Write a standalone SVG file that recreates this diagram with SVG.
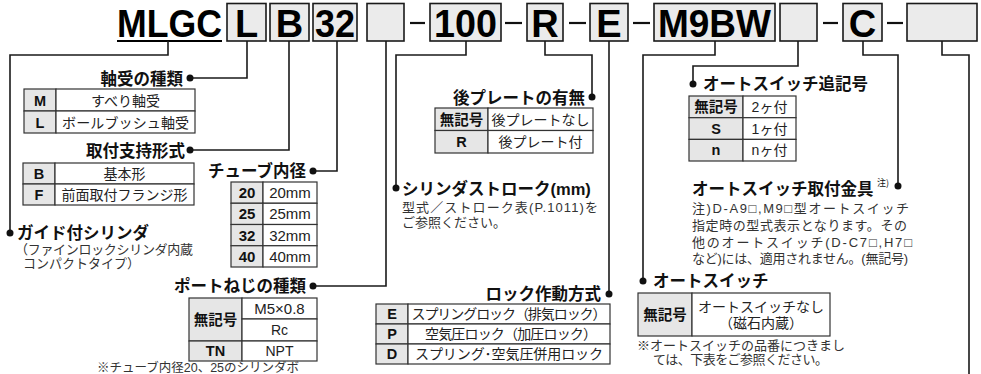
<svg xmlns="http://www.w3.org/2000/svg" width="981" height="374" viewBox="0 0 981 374">
<style>
.bx{fill:#ebebeb;stroke:#1a1a1a;stroke-width:1.6}
.big{font-family:"Liberation Sans",Arial,sans-serif;font-weight:700;font-size:38px;text-anchor:middle;fill:#000}
.ln{stroke:#1a1a1a;stroke-width:1.6;fill:none}
.dot{fill:#111}
.ttl{font-family:"Liberation Sans","Noto Sans CJK JP",sans-serif;font-weight:700;font-size:16.5px;fill:#111}
.e{text-anchor:end}
.th{fill:#e6e6e6;stroke:#333;stroke-width:1.2}
.td{fill:#fff;stroke:#333;stroke-width:1.2}
.c{font-family:"Liberation Sans","Noto Sans CJK JP",sans-serif;font-size:14px;text-anchor:middle;fill:#222}
.cb{font-family:"Liberation Sans","Noto Sans CJK JP",sans-serif;font-size:14.5px;font-weight:700;text-anchor:middle;fill:#111}
.n{font-family:"Liberation Sans","Noto Sans CJK JP",sans-serif;font-size:13px;fill:#333}
</style>

<g id="code">
  <text x="117" y="37" class="big" style="text-anchor:start" textLength="105" lengthAdjust="spacingAndGlyphs">MLGC</text>
  <line x1="117" y1="41" x2="222" y2="41" stroke="#000" stroke-width="2"/>
  <rect class="bx" x="227" y="3.5" width="39" height="37.5"/><text class="big" x="246.5" y="37">L</text>
  <rect class="bx" x="270" y="3.5" width="39" height="37.5"/><text class="big" x="289.5" y="37">B</text>
  <rect class="bx" x="313" y="3.5" width="44" height="37.5"/><text class="big" x="335" y="37" textLength="40" lengthAdjust="spacingAndGlyphs">32</text>
  <rect class="bx" x="367" y="3.5" width="37" height="37.5"/>
  <rect class="bx" x="430" y="3.5" width="71" height="37.5"/><text class="big" x="465.5" y="37" textLength="63" lengthAdjust="spacingAndGlyphs">100</text>
  <rect class="bx" x="527" y="3.5" width="36" height="37.5"/><text class="big" x="545" y="37">R</text>
  <rect class="bx" x="590" y="3.5" width="38" height="37.5"/><text class="big" x="609" y="37">E</text>
  <rect class="bx" x="654" y="3.5" width="121" height="37.5"/><text class="big" x="714.5" y="37" textLength="113" lengthAdjust="spacingAndGlyphs">M9BW</text>
  <rect class="bx" x="780" y="3.5" width="37" height="37.5"/>
  <rect class="bx" x="843" y="3.5" width="39" height="37.5"/><text class="big" x="862.5" y="37">C</text>
  <rect class="bx" x="907" y="3.5" width="70" height="37.5"/>
  <g stroke="#111" stroke-width="2.2">
    <line x1="410" y1="23" x2="425" y2="23"/>
    <line x1="505" y1="23" x2="522" y2="23"/>
    <line x1="569" y1="23" x2="586" y2="23"/>
    <line x1="633" y1="23" x2="650" y2="23"/>
    <line x1="823" y1="23" x2="838" y2="23"/>
    <line x1="887" y1="23" x2="903" y2="23"/>
  </g>
</g>

<g id="connectors">
  <path class="ln" d="M168,41 V55 H10 V233"/>
  <path class="ln" d="M247,41 V78 H190"/>
  <path class="ln" d="M289,41 V150 H190"/>
  <path class="ln" d="M337,41 V171 H313"/>
  <path class="ln" d="M386,41 V286 H313"/>
  <path class="ln" d="M466,41 V55 H396 V188"/>
  <path class="ln" d="M545,41 V55 H592 V97"/>
  <path class="ln" d="M609,41 V294"/>
  <path class="ln" d="M715,41 V55 H643 V281"/>
  <path class="ln" d="M798,41 V66 H693 V84"/>
  <path class="ln" d="M863,41 V55 H898 V186"/>
  <path class="ln" d="M942,41 V55 H969 V374"/>
  <circle class="dot" cx="10" cy="233" r="3.5"/>
  <circle class="dot" cx="190" cy="78" r="3.5"/>
  <circle class="dot" cx="190" cy="150" r="3.5"/>
  <circle class="dot" cx="313" cy="171" r="3.5"/>
  <circle class="dot" cx="313" cy="286" r="3.5"/>
  <circle class="dot" cx="396" cy="188" r="3.5"/>
  <circle class="dot" cx="592" cy="97" r="3.5"/>
  <circle class="dot" cx="609" cy="294" r="3.5"/>
  <circle class="dot" cx="643" cy="281" r="3.5"/>
  <circle class="dot" cx="693" cy="84" r="3.5"/>
  <circle class="dot" cx="898" cy="186" r="3.5"/>
</g>

<g id="bearing">
  <text class="ttl e" x="183" y="85">軸受の種類</text>
  <rect class="th" x="24" y="89" width="32" height="22"/><rect class="td" x="56" y="89" width="139" height="22"/>
  <rect class="th" x="24" y="111" width="32" height="22"/><rect class="td" x="56" y="111" width="139" height="22"/>
  <text class="cb" x="40" y="105.5">M</text><text class="c" x="125.5" y="105.5">すべり軸受</text>
  <text class="cb" x="40" y="127.5">L</text><text class="c" x="125.5" y="127.5" textLength="127">ボールブッシュ軸受</text>
</g>

<g id="mounting">
  <text class="ttl e" x="185" y="157">取付支持形式</text>
  <rect class="th" x="23" y="163" width="32" height="21"/><rect class="td" x="55" y="163" width="139" height="21"/>
  <rect class="th" x="23" y="184" width="32" height="21"/><rect class="td" x="55" y="184" width="139" height="21"/>
  <text class="cb" x="39" y="179">B</text><text class="c" x="124.5" y="179">基本形</text>
  <text class="cb" x="39" y="200">F</text><text class="c" x="124.5" y="200" textLength="126">前面取付フランジ形</text>
</g>

<g id="guide">
  <text class="ttl" x="17" y="239">ガイド付シリンダ</text>
  <text class="n" x="15" y="254" textLength="178">（ファインロックシリンダ内蔵</text>
  <text class="n" x="23" y="268">コンパクトタイプ）</text>
</g>

<g id="bore">
  <text class="ttl e" x="306" y="177">チューブ内径</text>
  <rect class="th" x="231" y="182" width="32" height="21.25"/><rect class="td" x="263" y="182" width="54" height="21.25"/>
  <rect class="th" x="231" y="203.25" width="32" height="21.25"/><rect class="td" x="263" y="203.25" width="54" height="21.25"/>
  <rect class="th" x="231" y="224.5" width="32" height="21.25"/><rect class="td" x="263" y="224.5" width="54" height="21.25"/>
  <rect class="th" x="231" y="245.75" width="32" height="21.25"/><rect class="td" x="263" y="245.75" width="54" height="21.25"/>
  <text class="cb" x="247" y="198" style="font-size:15px">20</text><text class="c" x="290" y="198" style="font-size:15px">20mm</text>
  <text class="cb" x="247" y="219.3" style="font-size:15px">25</text><text class="c" x="290" y="219.3" style="font-size:15px">25mm</text>
  <text class="cb" x="247" y="240.5" style="font-size:15px">32</text><text class="c" x="290" y="240.5" style="font-size:15px">32mm</text>
  <text class="cb" x="247" y="261.8" style="font-size:15px">40</text><text class="c" x="290" y="261.8" style="font-size:15px">40mm</text>
</g>

<g id="port">
  <text class="ttl e" x="306" y="292">ポートねじの種類</text>
  <rect class="th" x="189" y="298" width="53" height="43"/>
  <rect class="td" x="242" y="298" width="75" height="21"/>
  <rect class="td" x="242" y="319" width="75" height="22"/>
  <rect class="th" x="189" y="341" width="53" height="20"/><rect class="td" x="242" y="341" width="75" height="20"/>
  <text class="cb" x="215.5" y="324.5">無記号</text>
  <text class="c" x="279.5" y="314" style="font-size:15px">M5×0.8</text>
  <text class="c" x="279.5" y="335">Rc</text>
  <text class="cb" x="215.5" y="356">TN</text><text class="c" x="279.5" y="356">NPT</text>
  <text class="n" x="97" y="371.5" style="font-size:12.5px">※チューブ内径20、25のシリンダボ</text>
</g>

<g id="rearplate">
  <text class="ttl e" x="585" y="104">後プレートの有無</text>
  <rect class="th" x="435" y="108" width="53" height="22.5"/><rect class="td" x="488" y="108" width="105" height="22.5"/>
  <rect class="th" x="435" y="130.5" width="53" height="22.5"/><rect class="td" x="488" y="130.5" width="105" height="22.5"/>
  <text class="cb" x="461.5" y="124.5">無記号</text><text class="c" x="540.5" y="124.5">後プレートなし</text>
  <text class="cb" x="461.5" y="147">R</text><text class="c" x="540.5" y="147">後プレート付</text>
</g>

<g id="stroke">
  <text class="ttl" x="402" y="195">シリンダストローク(mm)</text>
  <text class="n" x="402" y="212" textLength="196">型式／ストローク表(P.1011)を</text>
  <text class="n" x="402" y="227">ご参照ください。</text>
</g>

<g id="lock">
  <text class="ttl e" x="601" y="300">ロック作動方式</text>
  <rect class="th" x="376" y="304" width="32" height="20"/><rect class="td" x="408" y="304" width="202" height="20"/>
  <rect class="th" x="376" y="324" width="32" height="20"/><rect class="td" x="408" y="324" width="202" height="20"/>
  <rect class="th" x="376" y="344" width="32" height="20"/><rect class="td" x="408" y="344" width="202" height="20"/>
  <text class="cb" x="392" y="319">E</text><text class="c" x="509" y="319" textLength="195">スプリングロック（排気ロック）</text>
  <text class="cb" x="392" y="339">P</text><text class="c" x="511" y="339" textLength="172">空気圧ロック（加圧ロック）</text>
  <text class="cb" x="392" y="359">D</text><text class="c" x="509" y="359" textLength="188">スプリング･空気圧併用ロック</text>
</g>

<g id="switchsuffix">
  <text class="ttl" x="703" y="90">オートスイッチ追記号</text>
  <rect class="th" x="689" y="96" width="54" height="21.7"/><rect class="td" x="743" y="96" width="53" height="21.7"/>
  <rect class="th" x="689" y="117.7" width="54" height="21.7"/><rect class="td" x="743" y="117.7" width="53" height="21.7"/>
  <rect class="th" x="689" y="139.4" width="54" height="21.6"/><rect class="td" x="743" y="139.4" width="53" height="21.6"/>
  <text class="cb" x="716" y="112">無記号</text><text class="c" x="769.5" y="112">2ヶ付</text>
  <text class="cb" x="716" y="133.5">S</text><text class="c" x="769.5" y="133.5">1ヶ付</text>
  <text class="cb" x="716" y="155">n</text><text class="c" x="769.5" y="155">nヶ付</text>
</g>

<g id="bracket">
  <text class="ttl" x="692" y="195">オートスイッチ取付金具</text>
  <text x="877" y="186" style="font-family:'Noto Sans CJK JP',sans-serif;font-size:9px;fill:#111">注)</text>
  <text class="n" x="692" y="213" textLength="217">注)D-A9□,M9□型オートスイッチ</text>
  <text class="n" x="692" y="230" textLength="215">指定時の型式表示となります。その</text>
  <text class="n" x="692" y="247" textLength="220">他のオートスイッチ(D-C7□,H7□</text>
  <text class="n" x="692" y="263" textLength="216">など)には、適用されません。(無記号)</text>
</g>

<g id="autoswitch">
  <text class="ttl" x="653" y="287">オートスイッチ</text>
  <rect class="th" x="638" y="293" width="54" height="43"/><rect class="td" x="692" y="293" width="138" height="43"/>
  <text class="cb" x="665" y="319.5">無記号</text>
  <text class="c" x="761" y="312">オートスイッチなし</text>
  <text class="c" x="761" y="328">（磁石内蔵）</text>
  <text class="n" x="637" y="350" textLength="208">※オートスイッチの品番につきまし</text>
  <text class="n" x="653" y="364" textLength="175">ては、下表をご参照ください。</text>
</g>
</svg>
